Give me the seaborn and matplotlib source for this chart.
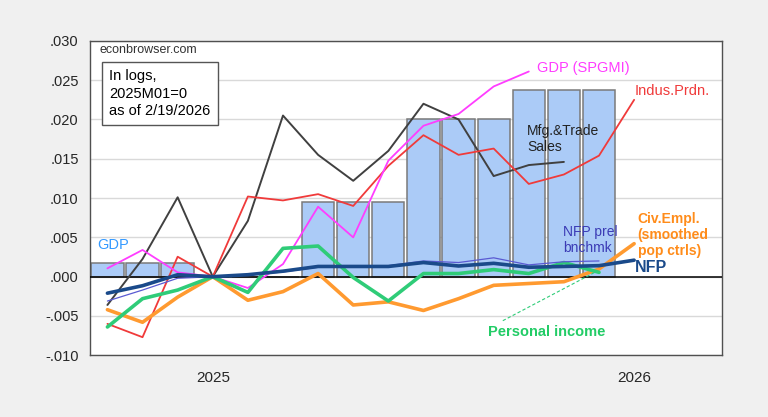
import numpy as np
import pandas as pd
import matplotlib
matplotlib.use("Agg")
import matplotlib.pyplot as plt
import seaborn as sns

# months relative to 2025M01 (-3 = 2024M10 ... 12 = 2026M01)
months = list(range(-3, 13))
nan = np.nan

gdp_q = [0.0017, 0.0017, 0.0017, 0.0, 0.0, 0.0, 0.00945, 0.00945, 0.00945,
         0.0201, 0.0201, 0.0201, 0.02375, 0.02375, 0.02375, nan]
gdp_spgmi = [0.00106, 0.0034, 0.00055, 0.0, -0.00144, 0.0016, 0.0089, 0.0050,
             0.01476, 0.0192, 0.0207, 0.0242, 0.0261, nan, nan, nan]
indus_prdn = [-0.0060, -0.0077, 0.00254, 0.0, 0.0102, 0.0097, 0.0105, 0.0090,
              0.0141, 0.0180, 0.0155, 0.0163, 0.0118, 0.0130, 0.0154, 0.0225]
mfg_sales = [-0.0036, 0.00225, 0.0101, 0.0, 0.0071, 0.0205, 0.0155, 0.0122,
             0.0160, 0.0220, 0.0200, 0.0128, 0.0142, 0.0146, nan, nan]
nfp = [-0.0021, -0.00115, 0.00025, 0.0, 0.00025, 0.0007, 0.0013, 0.0013,
       0.0013, 0.0018, 0.00136, 0.0017, 0.0012, 0.0013, 0.0014, 0.0021]
nfp_prel = [-0.0031, -0.0017, -0.0002, 0.0, 0.0002, 0.0006, 0.0012, 0.0012,
            0.0014, 0.0020, 0.0018, 0.0024, 0.0015, 0.0019, 0.0020, nan]
pers_income = [-0.0064, -0.0028, -0.0017, 0.0, -0.0020, 0.0036, 0.0039, -0.0001,
               -0.0031, 0.0004, 0.0004, 0.0009, 0.0004, 0.0018, 0.00055, nan]
civ_empl = [-0.0042, -0.0058, -0.0026, 0.0, -0.0030, -0.0019, 0.0004, -0.0036,
            -0.0032, -0.0043, -0.0028, -0.0011, nan, -0.00064, 0.00098, 0.0042]

df = pd.DataFrame({"m": months, "gdp": gdp_q, "spgmi": gdp_spgmi, "ip": indus_prdn,
                   "mts": mfg_sales, "nfp": nfp, "prel": nfp_prel,
                   "pi": pers_income, "ce": civ_empl})

sns.set_style("white")
plt.rcParams["font.family"] = ["Liberation Sans", "DejaVu Sans"]

fig = plt.figure(figsize=(7.68, 4.17), dpi=100, facecolor="#f0f0f0")
ax = fig.add_axes([0.117, 0.148, 0.823, 0.754])
ax.set_facecolor("white")

# GDP bars (quarterly, repeated monthly)
ax.bar(df["m"], df["gdp"], width=0.92, color="#abcbf7", edgecolor="#7a7a7a",
       linewidth=1.1, zorder=2)

ax.axhline(0, color="black", lw=1.1, zorder=3)

sns.lineplot(data=df, x="m", y="mts", ax=ax, color="#404040", lw=1.4, zorder=4)
sns.lineplot(data=df, x="m", y="ip", ax=ax, color="#f03a3a", lw=1.3, zorder=4)
sns.lineplot(data=df, x="m", y="spgmi", ax=ax, color="#ff3dff", lw=1.3, zorder=4)
sns.lineplot(data=df, x="m", y="ce", ax=ax, color="#ff9a30", lw=2.6, zorder=5)
sns.lineplot(data=df, x="m", y="pi", ax=ax, color="#2fcc78", lw=2.6, zorder=5)
sns.lineplot(data=df, x="m", y="prel", ax=ax, color="#5a5ad2", lw=0.9, zorder=6)
sns.lineplot(data=df, x="m", y="nfp", ax=ax, color="#1a4a8a", lw=2.6, zorder=6)

# thin dashed bridge over the missing civ. empl. month
ax.plot([8, 10], [civ_empl[11], civ_empl[13]], color="#ff9a30", lw=0.9,
        ls=(0, (4, 2)), zorder=5)
# leader line for personal income label
ax.plot([8.26, 10.88], [-0.0056, 0.00055], color="#2fcc78", lw=0.8,
        ls=(0, (3, 2)), zorder=5)

ax.set_xlim(-3.5, 14.5)
ax.set_ylim(-0.010, 0.030)
ax.set_xticks([0, 12])
ax.set_xticklabels(["2025", "2026"])
ax.set_xticks(months + [13, 14], minor=True)
ax.set_yticks(np.arange(-0.010, 0.0301, 0.005))
ax.yaxis.set_major_formatter(matplotlib.ticker.FuncFormatter(
    lambda v, p: f"{v:.3f}".replace("0.", ".")))
ax.tick_params(axis="x", which="major", direction="out", length=7, width=0.8,
               labelsize=11, pad=4, color="#333333")
ax.tick_params(axis="x", which="minor", direction="out", length=4, width=0.8,
               color="#333333")
ax.tick_params(axis="y", direction="out", length=5, width=0.8, labelsize=10.5,
               color="#333333", pad=3)
ax.set_xlabel("")
ax.set_ylabel("")
ax.grid(axis="y", color="#d9d9d9", lw=1)
ax.set_axisbelow(True)
for s in ax.spines.values():
    s.set_color("#505050")
    s.set_linewidth(1)

# text labels
ax.text(-3.22, 0.0288, "econbrowser.com", fontsize=9, color="#333333",
        va="center", ha="left")
ax.text(-2.95, 0.02328, "In logs,\n2025M01=0\nas of 2/19/2026", fontsize=10.5,
        va="center", ha="left", linespacing=1.3, color="black",
        bbox=dict(boxstyle="square,pad=0.5", fc="white", ec="#555555", lw=1))
ax.text(-3.3, 0.0040, "GDP", fontsize=10.5, color="#3399ff", va="center")
ax.text(9.23, 0.02655, "GDP (SPGMI)", fontsize=10.5, color="#ff3dff", va="center")
ax.text(12.02, 0.02366, "Indus.Prdn.", fontsize=10.5, color="#f03a3a", va="center")
ax.text(8.95, 0.01756, "Mfg.&Trade\nSales", fontsize=10, color="#222222",
        va="center", linespacing=1.2)
ax.text(9.97, 0.0047, "NFP prel\nbnchmk", fontsize=10, color="#3b3bb5",
        va="center", linespacing=1.2)
ax.text(12.1, 0.00528, "Civ.Empl.\n(smoothed\npop ctrls)", fontsize=10,
        color="#ff8c1a", va="center", fontweight="bold", linespacing=1.2)
ax.text(12.02, 0.0012, "NFP", fontsize=11.5, color="#1a4a8a", va="center",
        fontweight="bold")
ax.text(7.83, -0.0071, "Personal income", fontsize=10.5, color="#22cc66",
        va="center", fontweight="bold")

fig.savefig("out.png", dpi=100, facecolor=fig.get_facecolor())
